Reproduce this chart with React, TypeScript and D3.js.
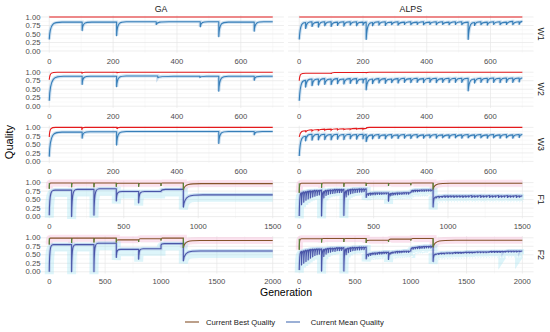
import React from "react";
import * as d3 from "d3";

type Tooth = number[]; // [generation, trough value, peak value, rise length (optional)]

const rowNames = ["W1", "W2", "W3", "F1", "F2"];
const colNames = ["GA", "ALPS"];
const genMax = [700, 700, 700, 1500, 2000];
const xTicksW = [0, 200, 400, 600];
const xTicksF1 = [0, 500, 1000, 1500];
const xTicksF2 = [0, 500, 1000, 1500, 2000];
const yTicks = [0, 0.25, 0.5, 0.75, 1];
const legendLabels = ["Current Best Quality", "Current Mean Quality"];

// ---- GA ----
const gaW1Mean: Tooth[] = [[0,0.34,0.85,40],[103,0.6,0.85,30],[211,0.45,0.86,30],[335,0.78,0.86,40],[473,0.71,0.86,25],[531,0.42,0.85,30],[642,0.58,0.86,30]];
const gaW1Best: Tooth[] = [[0,1,1,1]];
const gaW2Mean: Tooth[] = [[0,0.16,0.88,45],[103,0.64,0.88,25],[211,0.57,0.89,30],[340,0.84,0.88,50],[472,0.84,0.88,20],[531,0.44,0.88,30],[642,0.76,0.88,25]];
const gaW2Best: Tooth[] = [[0,0.78,1,25],[102,0.96,1,10],[212,0.97,1,10]];
const gaW3Mean: Tooth[] = [[0,0.14,0.86,40],[103,0.68,0.87,25],[211,0.48,0.88,30],[531,0.53,0.88,30],[642,0.78,0.88,25]];
const gaW3Best: Tooth[] = [[0,0.72,1,20],[102,0.92,1,10],[212,0.95,1,10]];
const gaF1Mean: Tooth[] = [[0,0.04,0.78,40],[150,0.0,0.8,40],[300,0.04,0.82,40],[450,0.46,0.74,40],[600,0.4,0.74,40],[750,0.74,0.8,30],[900,0.28,0.64,130]];
const gaF1Best: Tooth[] = [[0,0.82,0.99,10],[150,0.86,0.99,10],[300,0.86,0.99,10],[450,0.88,0.98,10],[600,0.88,0.98,10],[750,0.9,0.99,10],[900,0.78,0.97,120]];
const gaF2Mean: Tooth[] = [[0,0.0,0.8,40],[200,0.0,0.8,40],[400,0.0,0.84,40],[600,0.42,0.66,40],[800,0.37,0.68,40],[1000,0.78,0.83,30],[1200,0.32,0.61,150]];
const gaF2Best: Tooth[] = [[0,0.8,0.99,10],[200,0.85,0.99,10],[400,0.86,0.99,10],[600,0.86,0.94,20],[800,0.88,0.97,15],[1000,0.92,0.99,10],[1200,0.7,0.92,150]];

// ---- ALPS ----
const alpsW1Mean: Tooth[] = [[0,0.34,0.84],[20,0.66,0.86],[40,0.72,0.85],[60,0.7,0.86],[80,0.74,0.86],[100,0.72,0.85],[120,0.75,0.86],[140,0.73,0.86],[160,0.76,0.86],[180,0.74,0.85],[200,0.76,0.85],[210,0.34,0.84],[230,0.74,0.86],[250,0.76,0.86],[270,0.75,0.85],[290,0.77,0.86],[310,0.76,0.85],[330,0.78,0.86],[350,0.77,0.85],[370,0.78,0.86],[390,0.77,0.85],[410,0.78,0.86],[430,0.77,0.86],[450,0.78,0.85],[470,0.77,0.86],[490,0.78,0.86],[510,0.77,0.85],[530,0.34,0.84],[550,0.75,0.86],[570,0.77,0.85],[590,0.76,0.86],[610,0.78,0.86],[630,0.77,0.85],[650,0.78,0.87],[670,0.77,0.86],[690,0.78,0.87]];
const alpsW1Best: Tooth[] = [[0,1,1,1]];
const alpsW2Mean: Tooth[] = [[0,0.16,0.76],[20,0.56,0.8],[40,0.6,0.8],[60,0.62,0.81],[80,0.64,0.8],[100,0.63,0.81],[120,0.66,0.8],[140,0.65,0.81],[160,0.67,0.81],[180,0.66,0.8],[200,0.68,0.81],[210,0.48,0.8],[230,0.66,0.81],[250,0.68,0.81],[270,0.67,0.8],[290,0.69,0.81],[310,0.68,0.82],[330,0.7,0.81],[350,0.69,0.82],[370,0.7,0.81],[390,0.69,0.82],[410,0.7,0.82],[430,0.69,0.81],[450,0.7,0.82],[470,0.69,0.82],[490,0.7,0.82],[510,0.7,0.82],[530,0.45,0.8],[550,0.68,0.82],[570,0.7,0.82],[590,0.69,0.83],[610,0.7,0.82],[630,0.69,0.83],[650,0.7,0.83],[670,0.7,0.83],[690,0.71,0.83]];
const alpsW2Best: Tooth[] = [[0,0.75,0.97,20],[100,0.95,0.99,10],[210,0.97,1,10]];
const alpsW3Mean: Tooth[] = [[0,0.16,0.74],[20,0.6,0.8],[40,0.62,0.8],[60,0.63,0.8],[80,0.64,0.79],[100,0.63,0.8],[120,0.65,0.79],[140,0.64,0.8],[160,0.66,0.79],[180,0.65,0.8],[200,0.66,0.79],[210,0.58,0.78],[230,0.66,0.79],[250,0.67,0.78],[270,0.66,0.79],[290,0.68,0.78],[310,0.67,0.79],[330,0.68,0.78],[350,0.67,0.79],[370,0.69,0.78],[390,0.68,0.78],[410,0.69,0.79],[430,0.68,0.78],[450,0.69,0.78],[470,0.68,0.79],[490,0.69,0.78],[510,0.68,0.79],[530,0.69,0.78],[550,0.68,0.79],[570,0.69,0.78],[590,0.68,0.79],[610,0.69,0.78],[630,0.68,0.79],[650,0.69,0.78],[670,0.68,0.79],[690,0.7,0.79]];
const alpsW3Best: Tooth[] = [[0,0.72,0.9],[20,0.86,0.93],[40,0.9,0.94],[60,0.91,0.95],[80,0.92,0.95],[100,0.92,0.96],[120,0.93,0.96],[140,0.94,0.96],[160,0.94,0.97],[180,0.95,0.97],[200,0.95,0.97],[210,0.97,1,10]];
const alpsF1Mean: Tooth[] = [
  [0,0.02,0.7],[15,0.35,0.73],[30,0.42,0.74],[45,0.48,0.75],[60,0.52,0.76],[75,0.55,0.76],[90,0.58,0.77],[105,0.6,0.77],[120,0.62,0.77],[135,0.64,0.78],
  [150,0.02,0.74],[165,0.55,0.77],[180,0.62,0.78],[195,0.65,0.79],[210,0.67,0.79],[225,0.68,0.8],[240,0.69,0.8],[255,0.7,0.8],[270,0.7,0.8],[285,0.71,0.8],
  [300,0.03,0.76],[315,0.58,0.79],[330,0.64,0.8],[345,0.67,0.81],[360,0.69,0.81],[375,0.7,0.81],[390,0.71,0.82],[405,0.72,0.82],[420,0.72,0.82],[435,0.73,0.82],
  [450,0.56,0.68],[465,0.62,0.69],[480,0.63,0.69],[495,0.64,0.7],[510,0.64,0.7],[525,0.65,0.7],[540,0.65,0.7],[555,0.65,0.7],[570,0.66,0.7],[585,0.66,0.7],
  [600,0.45,0.68],[615,0.61,0.69],[630,0.63,0.69],[645,0.64,0.7],[660,0.64,0.7],[675,0.65,0.7],[690,0.65,0.71],[705,0.66,0.71],[720,0.66,0.71],[735,0.66,0.71],
  [750,0.7,0.77],[765,0.72,0.78],[780,0.73,0.78],[795,0.73,0.78],[810,0.74,0.79],[825,0.74,0.79],[840,0.74,0.79],[855,0.75,0.79],[870,0.75,0.79],[885,0.75,0.79],
  [900,0.28,0.58],[920,0.54,0.6],[940,0.55,0.6],[960,0.56,0.61],[980,0.56,0.61],[1000,0.56,0.61],[1020,0.57,0.61],[1040,0.56,0.61],[1060,0.57,0.61],[1080,0.57,0.61],
  [1100,0.56,0.61],[1120,0.57,0.61],[1140,0.57,0.62],[1160,0.56,0.61],[1180,0.57,0.61],[1200,0.57,0.62],[1220,0.56,0.61],[1240,0.57,0.61],[1260,0.57,0.62],[1280,0.56,0.61],
  [1300,0.57,0.61],[1320,0.57,0.62],[1340,0.56,0.61],[1360,0.57,0.61],[1380,0.57,0.62],[1400,0.56,0.61],[1420,0.57,0.61],[1440,0.57,0.62],[1460,0.56,0.61],[1480,0.57,0.61]];
const alpsF1Best: Tooth[] = [[0,0.7,0.98,15],[150,0.85,0.99,10],[300,0.88,0.99,10],[450,0.9,0.98,10],[600,0.9,0.98,10],[750,0.92,0.99,10],[900,0.8,0.98,120]];
const alpsF2Mean: Tooth[] = [
  [0,0.05,0.6],[20,0.2,0.62],[40,0.25,0.64],[60,0.3,0.65],[80,0.35,0.66],[100,0.4,0.67],[120,0.44,0.67],[140,0.48,0.68],[160,0.5,0.68],[180,0.52,0.68],
  [200,0.02,0.66],[220,0.45,0.68],[240,0.52,0.69],[260,0.56,0.7],[280,0.58,0.7],[300,0.6,0.7],[320,0.6,0.71],[340,0.62,0.71],[360,0.62,0.71],[380,0.63,0.71],
  [400,0.02,0.68],[420,0.5,0.7],[440,0.56,0.71],[460,0.6,0.72],[480,0.62,0.72],[500,0.63,0.72],[520,0.64,0.73],[540,0.64,0.73],[560,0.65,0.73],[580,0.65,0.73],
  [600,0.38,0.52],[620,0.46,0.54],[640,0.48,0.55],[660,0.5,0.56],[680,0.5,0.56],[700,0.51,0.57],[720,0.52,0.57],[740,0.52,0.58],[760,0.53,0.58],[780,0.53,0.58],
  [800,0.36,0.56],[820,0.52,0.58],[840,0.54,0.59],[860,0.55,0.6],[880,0.55,0.6],[900,0.56,0.6],[920,0.56,0.61],[940,0.57,0.61],[960,0.57,0.61],[980,0.57,0.61],
  [1000,0.64,0.71],[1020,0.66,0.72],[1040,0.67,0.73],[1060,0.68,0.74],[1080,0.68,0.74],[1100,0.69,0.75],[1120,0.69,0.75],[1140,0.7,0.75],[1160,0.7,0.76],[1180,0.7,0.76],
  [1200,0.3,0.52],[1225,0.5,0.54],[1250,0.51,0.55],[1275,0.52,0.55],[1300,0.52,0.56],[1325,0.53,0.56],[1350,0.53,0.56],[1375,0.53,0.57],[1400,0.54,0.57],[1425,0.54,0.57],
  [1450,0.54,0.57],[1475,0.55,0.58],[1500,0.55,0.58],[1525,0.55,0.58],[1550,0.55,0.58],[1575,0.56,0.59],[1600,0.56,0.59],[1625,0.56,0.59],[1650,0.56,0.59],[1675,0.56,0.59],
  [1700,0.57,0.6],[1725,0.57,0.6],[1750,0.57,0.6],[1775,0.57,0.6],[1800,0.57,0.6],[1825,0.58,0.6],[1850,0.58,0.61],[1875,0.58,0.61],[1900,0.58,0.61],[1925,0.58,0.61],
  [1950,0.58,0.61],[1975,0.59,0.61]];
const alpsF2Best: Tooth[] = [[0,0.65,0.97,20],[200,0.86,0.98,15],[400,0.88,0.98,15],[600,0.85,0.93,30],[800,0.88,0.96,20],[1000,0.92,0.98,15],[1200,0.72,0.93,200]];

const meanSeries = [
  [gaW1Mean, alpsW1Mean], [gaW2Mean, alpsW2Mean], [gaW3Mean, alpsW3Mean], [gaF1Mean, alpsF1Mean], [gaF2Mean, alpsF2Mean],
];
const bestSeries = [
  [gaW1Best, alpsW1Best], [gaW2Best, alpsW2Best], [gaW3Best, alpsW3Best], [gaF1Best, alpsF1Best], [gaF2Best, alpsF2Best],
];
const xTicksByRow = [xTicksW, xTicksW, xTicksW, xTicksF1, xTicksF2];

const FONT = "Liberation Sans, Arial, Helvetica, sans-serif";
const COL_RANGE = [[38.1, 283.9], [288.1, 533.5]];
const ROW_TOP1 = 17, ROW_STEP = 55.2, ROW_H = 34;

function toothPath(teeth: Tooth[], xEnd: number, x: (v: number) => number, y: (v: number) => number) {
  const p = d3.path();
  teeth.forEach((t, i) => {
    const [g, lo, hi, r] = t;
    const next = i < teeth.length - 1 ? teeth[i + 1][0] : xEnd;
    const dx = next - g;
    const explicit = r !== undefined;
    const rise = explicit ? Math.min(r, dx) : dx;
    if (i === 0) p.moveTo(x(g), y(lo));
    else p.lineTo(x(g), y(lo));
    const c1 = explicit ? 0.06 : 0.16;
    const c2 = explicit ? 0.35 : 0.55;
    p.bezierCurveTo(x(g + c1 * rise), y(hi), x(g + c2 * rise), y(hi), x(g + rise), y(hi));
    if (rise < dx) p.lineTo(x(next), y(hi));
  });
  return p.toString();
}

function dropsPath(teeth: Tooth[], x: (v: number) => number, y: (v: number) => number) {
  const p = d3.path();
  teeth.forEach((t, i) => {
    const [g, lo, hi] = t;
    const top = i === 0 ? hi : teeth[i - 1][2];
    p.moveTo(x(g), y(top));
    p.lineTo(x(g), y(lo));
  });
  return p.toString();
}

function Panel({ row, col }: { row: number; col: number }) {
  const isF = row >= 3;
  const gmax = genMax[row];
  const yTop1 = ROW_TOP1 + ROW_STEP * row;
  const y = d3.scaleLinear().domain([-0.05, 1.05]).range([yTop1 + ROW_H + 1.7, yTop1 - 1.7]);
  const x = d3.scaleLinear().domain([-0.05 * gmax, 1.05 * gmax]).range(COL_RANGE[col]);
  const [x0, x1] = COL_RANGE[col];
  const [yb, yt] = y.range();
  const ticks = xTicksByRow[row];
  const step = ticks[1] - ticks[0];
  const minorX = ticks.map((t) => t + step / 2).filter((t) => t <= gmax * 1.05);
  const minorY = [0.125, 0.375, 0.625, 0.875];
  const mean = meanSeries[row][col];
  const best = bestSeries[row][col];
  const meanD = toothPath(mean, gmax, x, y);
  const bestD = toothPath(best, gmax, x, y);
  return (
    <g>
      {minorY.map((v) => (
        <line key={"my" + v} x1={x0} x2={x1} y1={y(v)} y2={y(v)} stroke="#f2f2f2" strokeWidth={0.5} />
      ))}
      {minorX.map((v) => (
        <line key={"mx" + v} x1={x(v)} x2={x(v)} y1={yt} y2={yb} stroke="#f2f2f2" strokeWidth={0.5} />
      ))}
      {yTicks.map((v) => (
        <line key={"gy" + v} x1={x0} x2={x1} y1={y(v)} y2={y(v)} stroke="#e6e6e6" strokeWidth={0.7} />
      ))}
      {ticks.map((v) => (
        <line key={"gx" + v} x1={x(v)} x2={x(v)} y1={yt} y2={yb} stroke="#e6e6e6" strokeWidth={0.7} />
      ))}
      {isF ? (
        <g>
          <path d={bestD} fill="none" stroke="#f7b9d7" strokeOpacity={0.4} strokeWidth={7} />
          <path d={meanD} fill="none" stroke="#9fe3f2" strokeOpacity={0.35} strokeWidth={9} transform="translate(0,2.5)" />
          <path d={meanD} fill="none" stroke="#7f8fd6" strokeOpacity={0.3} strokeWidth={3} />
          <path d={meanD} fill="none" stroke="#4a56a8" strokeWidth={1.1} strokeLinejoin="round" />
          <path d={bestD} fill="none" stroke="#85532a" strokeWidth={1.1} />
          <path d={dropsPath(best, x, y)} fill="none" stroke="#4f8a3a" strokeWidth={1.1} />
        </g>
      ) : (
        <g>
          <path d={meanD} fill="none" stroke="#8fbbe0" strokeOpacity={0.45} strokeWidth={3.2} />
          <path d={meanD} fill="none" stroke="#377eb8" strokeWidth={1.1} strokeLinejoin="round" />
          <path d={bestD} fill="none" stroke="#e41a1c" strokeWidth={1.1} />
        </g>
      )}
      {col === 0 &&
        yTicks.map((v) => (
          <text key={"yl" + v} x={40.5} y={y(v)} dy="0.35em" textAnchor="end" fontSize={7.7} fill="#4d4d4d" fontFamily={FONT}>
            {v.toFixed(2)}
          </text>
        ))}
      {ticks.map((v) => (
        <text key={"xl" + v} x={x(v)} y={y(0) + 10} dy="0.35em" textAnchor="middle" fontSize={7.7} fill="#4d4d4d" fontFamily={FONT}>
          {v}
        </text>
      ))}
    </g>
  );
}

export default function App() {
  return (
    <svg width={550} height={332} style={{ position: "fixed", left: 0, top: 0, background: "#fff" }}>
      <rect x={0} y={0} width={550} height={332} fill="#fff" />
      {rowNames.map((_, r) => colNames.map((__, c) => <Panel key={r + "-" + c} row={r} col={c} />))}
      {colNames.map((name, c) => (
        <text key={name} x={(COL_RANGE[c][0] + COL_RANGE[c][1]) / 2} y={9} dy="0.35em" textAnchor="middle" fontSize={8.8} fill="#1a1a1a" fontFamily={FONT}>
          {name}
        </text>
      ))}
      {rowNames.map((name, r) => {
        const cy = ROW_TOP1 + ROW_STEP * r + ROW_H / 2;
        return (
          <text key={name} transform={`translate(541.5,${cy}) rotate(90)`} dy="0.35em" textAnchor="middle" fontSize={8.8} fill="#1a1a1a" fontFamily={FONT}>
            {name}
          </text>
        );
      })}
      <text transform="translate(9,142) rotate(-90)" dy="0.35em" textAnchor="middle" fontSize={11} fill="#000" fontFamily={FONT}>
        Quality
      </text>
      <text x={286} y={292.5} dy="0.35em" textAnchor="middle" fontSize={10.5} fill="#000" fontFamily={FONT}>
        Generation
      </text>
      <line x1={185} x2={199} y1={322} y2={322} stroke="#85532a" strokeWidth={1.1} />
      <text x={206} y={322} dy="0.35em" fontSize={7.7} fill="#1a1a1a" fontFamily={FONT}>{legendLabels[0]}</text>
      <line x1={286} x2={300} y1={322} y2={322} stroke="#4a6fb5" strokeWidth={1.1} />
      <text x={310.7} y={322} dy="0.35em" fontSize={7.7} fill="#1a1a1a" fontFamily={FONT}>{legendLabels[1]}</text>
    </svg>
  );
}
